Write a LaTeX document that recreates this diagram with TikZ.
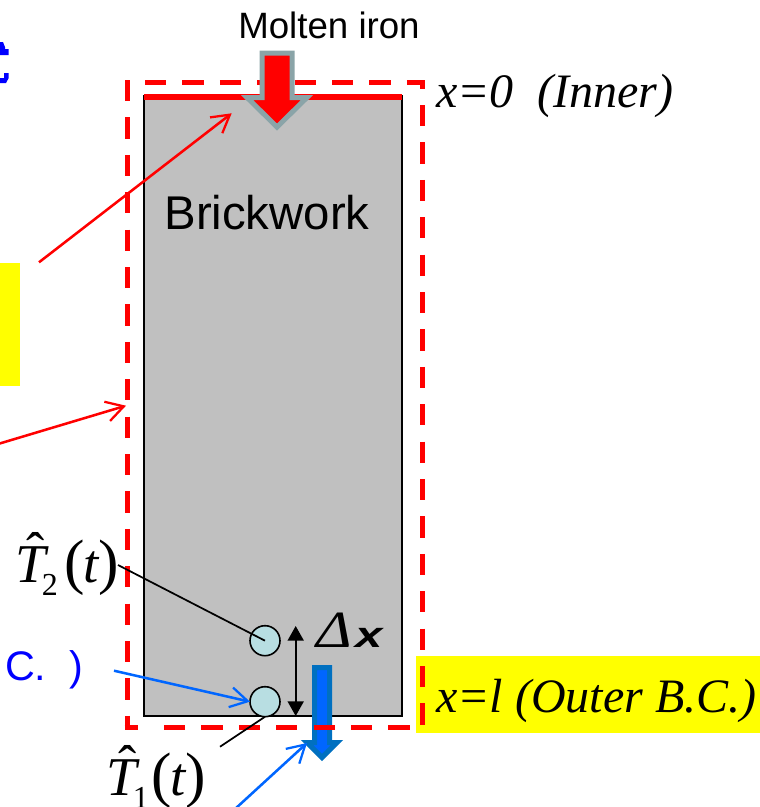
\documentclass[tikz,border=0pt]{standalone}
\usepackage{fontspec}
\setmainfont{Liberation Sans}
\newfontfamily\timesf{Liberation Serif}
\usetikzlibrary{arrows.meta}
\definecolor{brick}{RGB}{192,192,192}
\definecolor{moltenedge}{RGB}{138,164,168}
\definecolor{sensorfill}{RGB}{184,222,226}
\definecolor{lineblue}{RGB}{0,102,255}
\definecolor{edgeblue}{RGB}{0,112,192}
\definecolor{labelblue}{RGB}{0,0,255}
\definecolor{panel}{RGB}{255,255,0}
\newcommand{\Tlabel}[2]{{\timesf\fontsize{41}{41}\selectfont\rlap{\kern9pt\raisebox{9pt}{ˆ}}{\itshape T}\kern-2.6pt\raisebox{-10pt}{\fontsize{24}{24}\selectfont #1}\kern#2{\fontsize{46}{46}\selectfont(}\kern-1pt{\itshape t}\kern-0.5pt{\fontsize{46}{46}\selectfont)}}}
\tikzset{
 every node/.style={inner sep=0pt,outer sep=0pt},
 redarrow/.style={draw=red,line width=1.9pt,-{Straight Barb[length=13pt,width=15pt,line width=1.7pt]}},
 bluearrow/.style={draw=lineblue,line width=1.9pt,-{Straight Barb[length=13pt,width=15pt,line width=1.7pt]}},
 bound/.style={draw=red,line width=3.75pt},
 dashes/.style={dash pattern=on 15.9pt off 12.15pt,dash phase=#1},
 sensor/.style={circle,draw=black,fill=sensorfill,line width=1.2pt,minimum size=22.5pt},
 serifit/.style={font=\timesf\itshape\fontsize{36}{36}\selectfont,anchor=base west},
 leader/.style={draw=black,line width=1.3pt}
}
\begin{document}
\begin{tikzpicture}[x=0.75pt,y=-0.75pt]
\useasboundingbox (0,0) rectangle (760,807);
% cropped blue glyph fragments at the left edge
\fill[labelblue] (0,42) -- (3,42) -- (5,47) -- (5,49) -- (8.7,49) -- (8.7,55) -- (0,55) -- cycle;
\fill[labelblue] (4,73) -- (8.7,73) -- (8.7,78) -- (6,83) -- (0,83) -- (0,78) -- (4,78) -- cycle;
% yellow panels
\fill[panel] (0,263) rectangle (20,386);
\fill[panel] (416,656) rectangle (760,733);
% brickwork
\node[draw=black,fill=brick,line width=1.2pt,minimum width=193.3pt,minimum height=465pt,anchor=north west] (brick) at (144,96) {};
\draw[red,line width=4.5pt] (brick.north west)++(0,0.5) -- ++(257.7,0);
% blue heat arrow
\draw[fill=lineblue,draw=edgeblue,line width=3.75pt,miter limit=6] (314.5,667.5) -- (329.5,667.5) -- (329.5,742.5) -- (337,742.5) -- (322,757.5) -- (307,742.5) -- (314.5,742.5) -- cycle;
% boundary
\coordinate (bA) at (127,82.5);
\coordinate (bB) at (422,82.5);
\coordinate (bC) at (422,727.5);
\coordinate (bD) at (127,727.5);
\coordinate (bAt) at (127,80);
\coordinate (bBt) at (422,80);
\coordinate (bBr) at (424.5,82.5);
\coordinate (bDl) at (124.5,727.5);
\coordinate (bStub) at (138,727.5);
\coordinate (bSt) at (164,727.5);
\coordinate (bEn) at (409.5,727.5);
\draw[bound,dashes=0pt] (bAt) -- (bD);
\draw[bound,dashes=14.55pt] (bA) -- (bBr);
\draw[bound,dashes=9.3pt] (bBt) -- (bC);
\draw[bound] (bDl) -- (bStub);
\draw[bound,dashes=0pt] (bSt) -- (bEn);
% molten arrow
\draw[fill=red,draw=moltenedge,line width=3.75pt,miter limit=6] (262,53) -- (292,53) -- (292,97.5) -- (307,97.5) -- (277,127) -- (247,97.5) -- (262,97.5) -- cycle;
% texts
\node[font=\fontsize{27.5}{27.5}\selectfont,anchor=base] (molten) at (329,38) {Molten iron};
\node[font=\fontsize{35.5}{35.5}\selectfont,anchor=base] (brickwork) at (267,229) {Brickwork};
\node[serifit] (inner) at (436,107) {x=0\ \ (Inner)};
\node[serifit] (outer) at (436,712) {x=l (Outer B.C.)};
\node[anchor=base west,text=labelblue,font=\fontsize{31}{31}\selectfont] (clabel) at (5,680.7) {C.\ \ )};
\node[anchor=base west,font=\fontsize{32}{32}\selectfont\itshape] (dx) at (316,647) {\scalebox{1.3}[1.12]{\timesf\itshape\fontsize{35}{35}\selectfont Δ}\kern3pt\scalebox{1.15}[0.85]{\bfseries x}};
\node[anchor=base west] (t2) at (15,582) {\Tlabel{2}{5pt}};
\node[anchor=base west] (t1) at (106,795) {\Tlabel{1}{2pt}};
% sensors
\node[sensor] (s2) at (265,640.7) {};
\node[sensor] (s1) at (265,701.7) {};
% spacing arrow
\coordinate (dxT) at (295.7,626);
\coordinate (dxB) at (295.7,716);
\draw[leader,{Triangle[length=11pt,width=12pt]}-{Triangle[length=11pt,width=12pt]}] (dxT) -- (dxB);
% leaders
\coordinate (l2) at (118,565);
\coordinate (l1) at (220,746.7);
\draw[leader] (l2) -- (s2.center);
\draw[leader] (l1) -- (s1.south);
% annotation arrows
\coordinate (ra) at (39,262.3);
\coordinate (rb) at (231.7,113.3);
\coordinate (rc) at (-2,444);
\coordinate (rd) at (126,405.7);
\coordinate (ba) at (114,670.7);
\coordinate (bb) at (235,809);
\coordinate (bc) at (307,743);
\draw[redarrow] (ra) -- (rb);
\draw[redarrow] (rc) -- (rd);
\draw[bluearrow] (ba) -- (s1.west);
\draw[bluearrow] (bb) -- (bc);
\end{tikzpicture}
\end{document}
